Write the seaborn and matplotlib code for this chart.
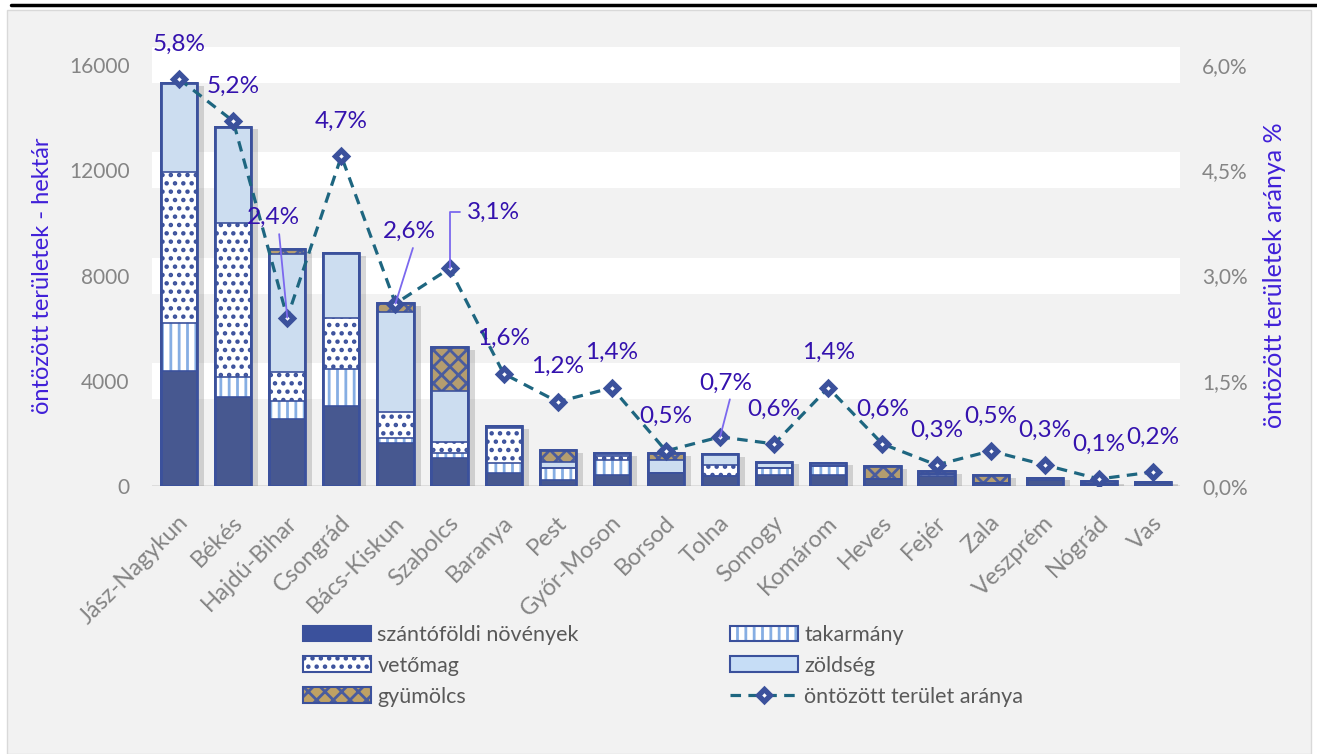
import matplotlib
matplotlib.use("Agg")
import matplotlib.pyplot as plt
import matplotlib.patheffects as pe
import matplotlib.transforms as mtransforms
from matplotlib.patches import Patch, Rectangle
from matplotlib.lines import Line2D
from matplotlib.ticker import FuncFormatter
import numpy as np
import seaborn as sns

megyek = ["Jász-Nagykun", "Békés", "Hajdú-Bihar", "Csongrád", "Bács-Kiskun", "Szabolcs",
          "Baranya", "Pest", "Győr-Moson", "Borsod", "Tolna", "Somogy", "Komárom",
          "Heves", "Fejér", "Zala", "Veszprém", "Nógrád", "Vas"]
szanto = [4380, 3370, 2535, 3050, 1645, 1050, 480, 230, 420, 505, 380, 420, 420, 280, 380, 120, 240, 90, 120]
takarmany = [1800, 785, 705, 1395, 165, 190, 380, 470, 570, 0, 0, 250, 350, 0, 80, 0, 75, 0, 0]
vetomag = [5765, 5830, 1080, 1955, 1015, 445, 1330, 0, 150, 0, 420, 0, 0, 0, 0, 0, 0, 0, 0]
zoldseg = [3380, 3670, 4495, 2440, 3775, 1925, 100, 225, 100, 485, 400, 190, 115, 0, 0, 0, 0, 0, 45]
gyumolcs = [0, 0, 180, 0, 340, 1660, 0, 445, 0, 250, 0, 65, 0, 480, 110, 300, 0, 100, 0]
arany = [5.8, 5.2, 2.4, 4.7, 2.6, 3.1, 1.6, 1.2, 1.4, 0.5, 0.7, 0.6, 1.4, 0.6, 0.3, 0.5, 0.3, 0.1, 0.2]

# label offsets in pixels (dx, dy); default above the marker
label_off = {2: (-14, 100), 4: (14, 72), 5: (44, 56), 10: (6, 54)}

sns.set_style("white")
plt.rcParams['font.family'] = ['Lato', 'DejaVu Sans']
plt.rcParams['hatch.linewidth'] = 2.0

BLUE = '#3B519C'
TEAL = '#1E6680'
LBL = '#3412AE'
TITLE = '#4020D8'
GREY = '#858585'
TAK = '#86AEE3'
GYU = '#BFA164'

fig = plt.figure(figsize=(13.17, 7.54), dpi=100, facecolor='white')
fig.add_artist(Rectangle((7 / 1317, 0), 1304 / 1317, 744 / 754, transform=fig.transFigure,
                         facecolor='#F2F2F2', edgecolor='#D9D9D9', lw=1, zorder=-10))
fig.add_artist(Line2D([11 / 1317, 1], [1 - 5 / 754] * 2, transform=fig.transFigure,
                      color='black', lw=2.5))

ax = fig.add_axes([152 / 1317, 1 - 486 / 754, 1028 / 1317, 421 / 754])
ax.set_facecolor('none')

for yv in [4000, 8000, 12000, 16000]:
    ax.axhline(yv, color='white', lw=26, zorder=0.5, clip_on=False, solid_capstyle='butt')
ax.axhline(0, color='#D9D9D9', lw=1.2, zorder=1)

total = np.sum([szanto, takarmany, vetomag, zoldseg, gyumolcs], axis=0)
W = 0.67

# shadow layer
n0 = len(ax.patches)
sns.barplot(x=megyek, y=total, color='#F2F2F2', linewidth=0, width=W, errorbar=None,
            ax=ax, zorder=1.5)
for p in ax.patches[n0:]:
    p.set_path_effects([pe.SimplePatchShadow(offset=(5, -2), shadow_rgbFace='#808080', alpha=0.3),
                        pe.Normal()])

layers = [
    (szanto, BLUE, None, BLUE),
    (takarmany, 'white', '||', TAK),
    (vetomag, 'white', '..', BLUE),
    (zoldseg, '#C6DDF6', None, BLUE),
    (gyumolcs, GYU, 'xx', '#4A5C9E'),
]
bottom = np.zeros(len(megyek))
for vals, fc, hatch, hc in layers:
    sns.barplot(x=megyek, y=vals, bottom=bottom, color=fc, hatch=hatch, edgecolor=hc,
                linewidth=0, width=W, errorbar=None, ax=ax, zorder=2)
    # thin separator at the top of each segment
    bottom = bottom + np.array(vals)
    sns.barplot(x=megyek, y=bottom, fill=False, color=BLUE, linewidth=1.2, width=W,
                errorbar=None, ax=ax, zorder=2.5)

sns.barplot(x=megyek, y=total, fill=False, color=BLUE, linewidth=2, width=W,
            errorbar=None, ax=ax, zorder=3)

ax.set_ylim(0, 16000)
ax.set_yticks([0, 4000, 8000, 12000, 16000])
ax.tick_params(axis='y', length=0, pad=16, labelsize=15, labelcolor=GREY)
ax.set_ylabel('öntözött területek - hektár', color=TITLE, fontsize=17)
ax.yaxis.set_label_coords((53 - 152) / 1028, 0.5)
for s in ax.spines.values():
    s.set_visible(False)

ax2 = ax.twinx()
x = np.arange(len(megyek))
y = np.array(arany) / 100
sns.lineplot(x=x, y=y, ax=ax2, color=TEAL, linewidth=2.3, linestyle=(0, (3.3, 2.3)),
             marker='D', markersize=6.5, markerfacecolor='white', markeredgecolor=BLUE,
             markeredgewidth=3.8, zorder=4)
ax2.set_ylim(0, 0.06)
ax2.set_yticks([0, 0.015, 0.03, 0.045, 0.06])
ax2.yaxis.set_major_formatter(FuncFormatter(lambda v, p: f"{v * 100:.1f}%".replace('.', ',')))
ax2.tick_params(axis='y', length=0, pad=16, labelsize=15, labelcolor=GREY)
ax2.set_ylabel('öntözött területek aránya %', color=TITLE, fontsize=18)
ax2.yaxis.set_label_coords((1263 - 152) / 1028, 0.5)
ax2.set_xlabel('')
for s in ax2.spines.values():
    s.set_visible(False)

for i, v in enumerate(arany):
    txt = f"{v:.1f}%".replace('.', ',')
    dx, dy = label_off.get(i, (0, 35))
    kw = dict(xy=(i, v / 100), xytext=(dx, dy), textcoords='offset pixels',
              ha='center', va='center', fontsize=17.5, color=LBL, zorder=5)
    if i in (2, 4, 10):
        kw['arrowprops'] = dict(arrowstyle='-', color='#7B68EE', lw=1.3, shrinkA=2, shrinkB=0,
                                relpos=(0.6, 0))
    elif i == 5:
        kw['arrowprops'] = dict(arrowstyle='-', color='#7B68EE', lw=1.3, shrinkA=3, shrinkB=0,
                                relpos=(0, 0.5),
                                connectionstyle='angle,angleA=0,angleB=90,rad=0')
    ax2.annotate(txt, **kw)

ax.set_xlim(-0.5, len(megyek) - 0.5)
ax.set_xticks(x)
ax.set_xticklabels(megyek, rotation=45, ha='right', va='center', rotation_mode='anchor')
ax.tick_params(axis='x', length=0, pad=24, labelsize=17, labelcolor=GREY)
ax.set_xlabel('')
shift = mtransforms.ScaledTranslation(6 / 100, 0, fig.dpi_scale_trans)
for lbl in ax.get_xticklabels():
    lbl.set_transform(lbl.get_transform() + shift)

# legend
outline = dict(facecolor='none', edgecolor=BLUE, lw=1.5)
h_szanto = Patch(facecolor=BLUE, edgecolor=BLUE, lw=1.5)
h_vet = (Patch(facecolor='white', hatch='..', edgecolor=BLUE, lw=0), Patch(**outline))
h_gyu = (Patch(facecolor=GYU, hatch='xx', edgecolor='#4A5C9E', lw=0), Patch(**outline))
h_tak = (Patch(facecolor='white', hatch='||', edgecolor=TAK, lw=0), Patch(**outline))
h_zol = Patch(facecolor='#C6DDF6', edgecolor=BLUE, lw=1.5)
h_line = Line2D([], [], color=TEAL, lw=2.3, linestyle=(0, (3.3, 2.3)), marker='D',
                markersize=6.5, markerfacecolor='white', markeredgecolor=BLUE, markeredgewidth=3.8)

fs = 15.5
leg_kw = dict(frameon=False, fontsize=fs, labelcolor='#595959', handlelength=68 / (fs * 1.389),
              handleheight=16 / (fs * 1.389), handletextpad=0.3, labelspacing=0.5, borderpad=0,
              borderaxespad=0, loc='upper left')
fig.legend([h_szanto, h_vet, h_gyu], ['szántóföldi növények', 'vetőmag', 'gyümölcs'],
           bbox_to_anchor=(303 / 1317, 1 - 625 / 754), **leg_kw)
fig.legend([h_tak, h_zol, h_line], ['takarmány', 'zöldség', 'öntözött terület aránya'],
           bbox_to_anchor=(730 / 1317, 1 - 625 / 754), **leg_kw)

fig.savefig('out.png', dpi=100, facecolor=fig.get_facecolor())
